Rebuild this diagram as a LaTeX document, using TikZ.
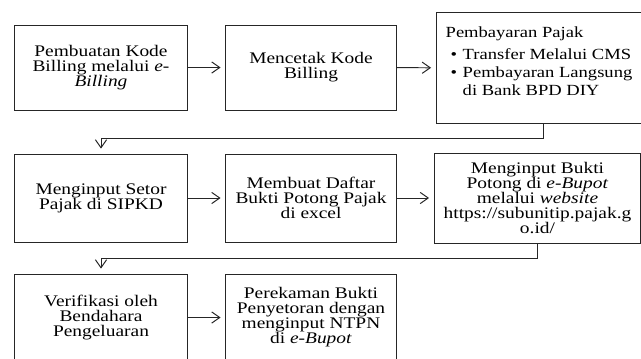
\documentclass[tikz,border=0pt]{standalone}
\usepackage{fontspec}
\setmainfont{Liberation Serif}[FakeStretch=1.2]
\usetikzlibrary{arrows.meta}

\begin{document}
\begin{tikzpicture}[x=0.025cm,y=-0.025cm,>={Straight Barb[length=2mm,width=2.8mm]},
  every node/.style={font={\fontsize{11.5}{10.7}\selectfont\lineskiplimit-5pt\relax}},
  box/.style={draw=black!85,line width=0.7pt,align=center,inner sep=2pt},
  link/.style={->,draw=black!85,line width=0.7pt,shorten >=3.5pt}]
\useasboundingbox (0,0) rectangle (641,358);
\node[box,minimum width=4.3cm,minimum height=2.125cm] (a) at (101,67.5) {Pembuatan Kode\\Billing melalui \textit{e-}\\\textit{Billing}};
\node[box,minimum width=4.25cm,minimum height=2.125cm] (b) at (311,67.5) {Mencetak Kode\\Billing};
\node[box,minimum width=5.125cm,minimum height=2.75cm,font={\fontsize{11}{12.8}\selectfont}] (c) at (539,68) {%
\begin{tabular}{@{\hspace{3.5pt}}l@{\hspace{4pt}}l@{}}
\multicolumn{2}{@{}l@{}}{Pembayaran Pajak}\\[2.5pt]
\textbullet & Transfer Melalui CMS\\
\textbullet & Pembayaran Langsung\\
 & di Bank BPD DIY\\[7pt]
\end{tabular}};
\node[box,minimum width=4.3cm,minimum height=2.2cm] (d) at (101,198) {Menginput Setor\\Pajak di SIPKD};
\node[box,minimum width=4.25cm,minimum height=2.2cm] (e) at (311,198) {Membuat Daftar\\Bukti Potong Pajak\\di excel};
\node[box,minimum width=5.15cm,minimum height=2.25cm] (f) at (537.5,198) {Menginput Bukti\\Potong di \textit{e-Bupot}\\melalui \textit{website}\\https://subunitip.pajak.g\\o.id/};
\node[box,minimum width=4.3cm,minimum height=2.175cm] (g) at (101,317.5) {Verifikasi oleh\\Bendahara\\Pengeluaran};
\node[box,minimum width=4.25cm,minimum height=2.175cm] (h) at (311,317.5) {Perekaman Bukti\\Penyetoran dengan\\menginput NTPN\\di \textit{e-Bupot}};
\draw[link] (a)--(b);\draw[link] (b)--(c);
\draw[link] ([xshift=3pt]c.south)--++(0,15)-|(d.north);
\draw[link] (d)--(e);\draw[link] (e)--(f);
\draw[link] (f.south)--++(0,15)-|(g.north);
\draw[link] (g)--(h);
\end{tikzpicture}
\end{document}
